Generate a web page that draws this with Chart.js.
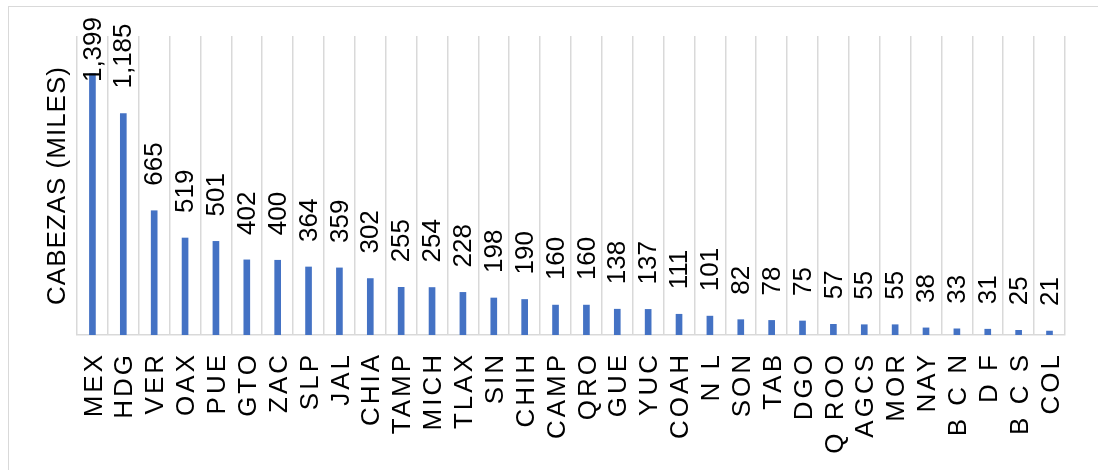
<!DOCTYPE html>
<html>
<head>
<meta charset="utf-8">
<script src="https://cdn.jsdelivr.net/npm/chart.js@4"></script>
<style>
  html, body { margin: 0; padding: 0; background: #fff; overflow: hidden; }
  #wrap { position: relative; width: 1098px; height: 470px; }
  #frame { position: absolute; left: 8px; top: 6px; width: 1200px; height: 600px;
           border: 1.5px solid #d9d9d9; pointer-events: none; }
  canvas { position: absolute; left: 0; top: 0; }
</style>
</head>
<body>
<div id="wrap">
  <canvas id="c" width="1098" height="470"></canvas>
  <div id="frame"></div>
</div>
<script>
// Head counts by state, thousands
const states = ['MEX', 'HDG', 'VER', 'OAX', 'PUE', 'GTO', 'ZAC', 'SLP', 'JAL', 'CHIA',
  'TAMP', 'MICH', 'TLAX', 'SIN', 'CHIH', 'CAMP', 'QRO', 'GUE', 'YUC', 'COAH',
  'N L', 'SON', 'TAB', 'DGO', 'Q ROO', 'AGCS', 'MOR', 'NAY', 'B C N', 'D F', 'B C S', 'COL'];
const heads = [1399, 1185, 665, 519, 501, 402, 400, 364, 359, 302,
  255, 254, 228, 198, 190, 160, 160, 138, 137, 111,
  101, 82, 78, 75, 57, 55, 55, 38, 33, 31, 25, 21];
const axisTitle = 'CABEZAS (MILES)';
const yMax = 1600;

const FONT = '"Liberation Sans", Arial, sans-serif';
const fmt = new Intl.NumberFormat('en-US');

// Value labels drawn vertically above each bar; letter spacing set per drawing stage
const barLabels = {
  id: 'barLabels',
  beforeDraw(chart) {
    chart.ctx.letterSpacing = '1px';
  },
  afterDatasetsDraw(chart) {
    const ctx = chart.ctx;
    const meta = chart.getDatasetMeta(0);
    ctx.save();
    ctx.letterSpacing = '0px';
    ctx.font = '26px ' + FONT;
    ctx.fillStyle = '#000';
    ctx.textAlign = 'left';
    ctx.textBaseline = 'middle';
    const topLimit = 17;
    const gap = 25;
    meta.data.forEach((bar, i) => {
      const txt = fmt.format(heads[i]);
      const w = ctx.measureText(txt).width;
      let start = bar.y - gap;
      if (start - w < topLimit) start = topLimit + w;
      ctx.save();
      ctx.translate(bar.x, start);
      ctx.rotate(-Math.PI / 2);
      ctx.fillText(txt, 0, 1);
      ctx.restore();
    });
    ctx.restore();
    // category labels are drawn next (ticks z = 1)
    ctx.letterSpacing = '3px';
  },
  afterDraw(chart) {
    chart.ctx.letterSpacing = '0px';
  }
};

new Chart(document.getElementById('c'), {
  type: 'bar',
  data: {
    labels: states,
    datasets: [{
      data: heads,
      backgroundColor: '#4472C4',
      borderWidth: 0,
      barThickness: 6
    }]
  },
  options: {
    responsive: false,
    animation: false,
    layout: { padding: { left: 30, right: 19, top: 36, bottom: 0 } },
    plugins: {
      legend: { display: false },
      tooltip: { enabled: false }
    },
    scales: {
      x: {
        offset: true,
        grid: { display: true, offset: true, color: '#d9d9d9', lineWidth: 1.5, drawTicks: false },
        border: { display: true, color: '#d9d9d9', width: 1.5 },
        ticks: {
          z: 1,
          autoSkip: false,
          minRotation: 90,
          maxRotation: 90,
          padding: 17,
          labelOffset: 2,
          color: '#000',
          font: { family: FONT, size: 26 }
        },
        afterFit(scale) { scale.height = 135; }
      },
      y: {
        min: 0,
        max: yMax,
        grid: { display: false },
        border: { display: false },
        ticks: { display: false },
        title: {
          display: true,
          text: axisTitle,
          color: '#000',
          font: { family: FONT, size: 26 },
          padding: { top: 12, bottom: 0 }
        },
        afterFit(scale) { scale.width = 47; }
      }
    }
  },
  plugins: [barLabels]
});
</script>
</body>
</html>
